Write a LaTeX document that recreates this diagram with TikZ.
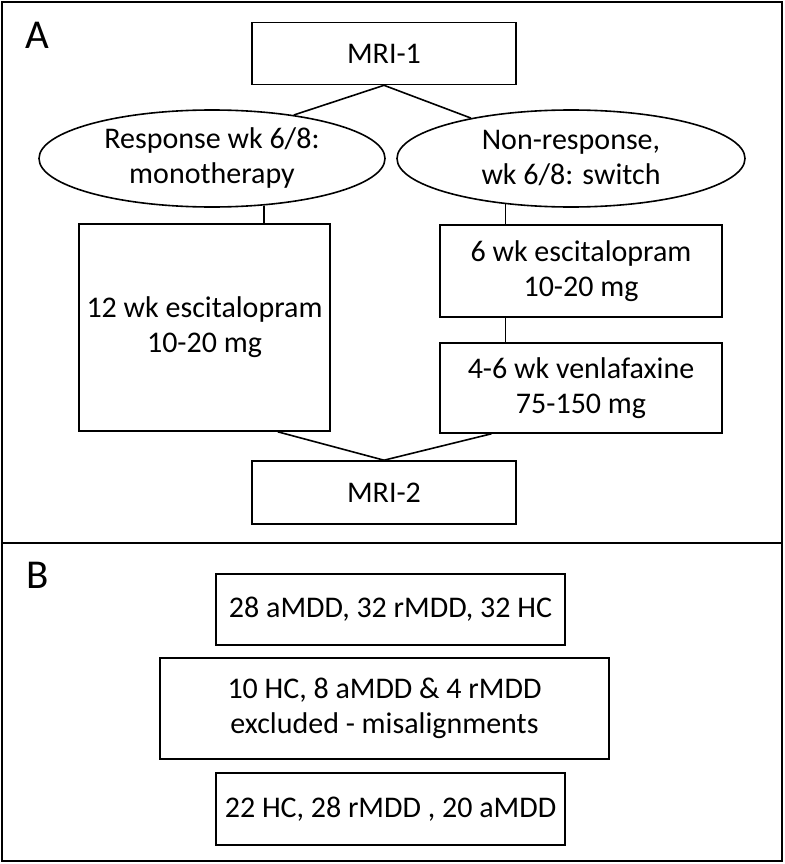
\documentclass[tikz,border=0pt]{standalone}
\usepackage{fontspec}
\setmainfont{Carlito}
\usepackage{tikz}
\usetikzlibrary{positioning}
\usetikzlibrary{shapes, backgrounds}
\usetikzlibrary{calc}

\begin{document}
\begin{tikzpicture}[x=1pt, y=-1pt,
				box/.style={draw, rectangle, inner sep=0pt, line width=1.6pt},
				oval/.style={draw, ellipse, inner sep=0pt, line width=1.6pt},
				link/.style={line width=1.6pt},
				panel/.style={font=\fontsize{41}{41}\selectfont},
				every text node part/.style={align=center},
				every node/.style={font=\fontsize{30}{35}\selectfont}]
				\useasboundingbox (0,0) rectangle (784,864);
				\draw[line width=2pt] (2,2) rectangle (782,861);
				\draw[line width=2pt] (2,543) -- (782,543);
				\node[panel](labA) at (37,35) {A};
				\node[panel](labB) at (38,575) {B};
				
				% A
				\node[box, minimum width=264, minimum height=62](mri1) at (384,53.5) {MRI-1};
				\node[oval, minimum width=346, minimum height=97](resp) at (212,158.5) {Response wk 6/8:\\monotherapy};
				\node[oval, minimum width=348, minimum height=97](nonresp) at (571,158.5) {Non-response,\\wk 6/8: switch};
				\node[box, minimum width=251, minimum height=207](esc12) at (204.5,327.5) {12 wk escitalopram\\10-20 mg};
				\node[box, minimum width=282, minimum height=92](esc6) at (581,271) {6 wk escitalopram\\10-20 mg};
				\node[box, minimum width=282, minimum height=90](venla) at (581,388) {4-6 wk venlafaxine\\75-150 mg};
				\node[box, minimum width=264, minimum height=63](mri2) at (384,492.5) {MRI-2};
				
				\draw[link] (mri1.south) -- (resp.28);
				\draw[link] (mri1.south) -- (nonresp.158);
				\draw[link] (resp.-42) -- (resp.-42 |- esc12.north);
				\draw[link] (nonresp.-145) -- (nonresp.-145 |- esc6.north);
				\draw[link] (nonresp.-145 |- esc6.south) -- (nonresp.-145 |- venla.north);
				\draw[link] ($(esc12.south west)!0.79!(esc12.south east)$) -- (mri2.north);
				\draw[link] ($(venla.south west)!0.184!(venla.south east)$) -- (mri2.north);
				
				% B
				\node[box, minimum width=349, minimum height=71](grp1) at (390.5,609.5) {28 aMDD, 32 rMDD, 32 HC};
				\node[box, minimum width=449, minimum height=101](excl) at (384.5,708.5) {10 HC, 8 aMDD \& 4 rMDD\\excluded - misalignments};
				\node[box, minimum width=349, minimum height=72](grp2) at (390.5,809) {22 HC, 28 rMDD , 20 aMDD};
				
			\end{tikzpicture}
\end{document}
